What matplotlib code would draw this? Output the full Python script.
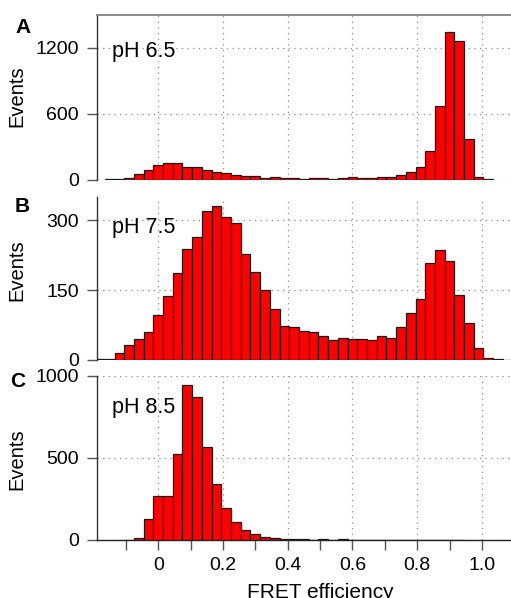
import numpy as np
import matplotlib.pyplot as plt

plt.rcParams['font.family'] = ['Liberation Sans', 'DejaVu Sans']

# histogram counts, bin width 0.03, first bin centre given per panel
bin_width = 0.03
start_a = -0.15
counts_a = [5, 8, 15, 51, 87, 136, 154, 151, 112, 115, 87, 69, 63, 45, 33,
            30, 18, 21, 15, 18, 9, 15, 12, 9, 15, 24, 15, 15, 24, 24,
            42, 66, 118, 262, 666, 1342, 1263, 368, 21, 6]
start_b = -0.18
counts_b = [3, 3, 16, 32, 45, 61, 97, 138, 186, 238, 265, 319, 331, 306, 294,
            228, 189, 150, 110, 73, 70, 62, 60, 51, 43, 48, 46, 46, 43, 52,
            47, 70, 100, 132, 209, 237, 212, 139, 79, 26, 4, 3, 1]
start_c = -0.09
counts_c = [2, 10, 129, 266, 268, 525, 943, 869, 566, 340, 197, 111, 64, 35, 18,
            10, 6, 4, 6, 2, 4, 2, 4, 1, 1, 1, 1, 1, 3, 1, 1, 1, 3, 1, 1]

panel_letters = ['A', 'B', 'C']
ph_labels = ['pH 6.5', 'pH 7.5', 'pH 8.5']
ylims = [1500, 350, 1000]
yticks = [[0, 600, 1200], [0, 150, 300], [0, 500, 1000]]
xticks_major = [0, 0.2, 0.4, 0.6, 0.8, 1.0]
xtick_labels = ['0', '0.2', '0.4', '0.6', '0.8', '1.0']
xticks_minor = [-0.1, 0.1, 0.3, 0.5, 0.7, 0.9]
xlim = (-0.19, 1.09)

W, H = 511, 598
fig = plt.figure(figsize=(W / 100, H / 100), dpi=100)

# axes boxes in pixels: (top, bottom)
boxes = [(14.7, 179.5), (197, 360), (376, 540)]
left_px = 96.7
ph_y = [0.746, 0.779, 0.774]
ylabel_y = [96.5, 270.5, 459]
letter_pos = [(23, 33), (22.5, 212), (18, 387)]

data = [(start_a, counts_a), (start_b, counts_b), (start_c, counts_c)]
grid_kw = dict(color='#8a8a8a', linestyle=(0, (1, 3.5)), linewidth=0.9)

for i, (top, bot) in enumerate(boxes):
    ax = fig.add_axes([left_px / W, 1 - bot / H, 1 - left_px / W, (bot - top) / H])
    start, counts = data[i]
    centers = start + bin_width * np.arange(len(counts))
    ax.bar(centers, counts, width=bin_width, color='#ff0000',
           edgecolor='#1a1a1a', linewidth=0.9, zorder=3)
    ax.set_xlim(*xlim)
    ax.set_ylim(0, ylims[i])
    ax.set_yticks(yticks[i])
    ax.set_xticks(xticks_major)
    ax.set_axisbelow(True)
    ax.grid(True, **grid_kw)

    ax.spines['right'].set_visible(False)
    ax.spines['left'].set_color('#333333')
    ax.spines['left'].set_linewidth(1.0)
    ax.tick_params(axis='y', direction='out', length=7, width=1.0,
                   color='#555555', pad=6, labelsize=14)
    if i == 0:
        ax.spines['top'].set_color('#777777')
        ax.spines['top'].set_linewidth(1.2)
    else:
        ax.spines['top'].set_visible(False)

    if i < 2:
        ax.spines['bottom'].set_visible(False)
        ax.tick_params(axis='x', length=0, labelbottom=False)
    else:
        ax.spines['bottom'].set_color('#222222')
        ax.spines['bottom'].set_linewidth(1.0)
        ax.set_xticklabels(xtick_labels)
        ax.set_xticks(xticks_minor, minor=True)
        ax.tick_params(axis='x', which='both', direction='out', length=7,
                       width=1.0, color='#555555', pad=5, labelsize=14)
        ax.set_xlabel('FRET efficiency', fontsize=15)
        ax.xaxis.set_label_coords((0.5 - xlim[0]) / (xlim[1] - xlim[0]), -0.26)

    ax.text(0.036, ph_y[i], ph_labels[i], transform=ax.transAxes, fontsize=15.5,
            va='baseline', ha='left')

    fig.text(17 / W, 1 - ylabel_y[i] / H, 'Events', rotation=90, fontsize=14.5,
             ha='center', va='center')

for letter, (x, y) in zip(panel_letters, letter_pos):
    fig.text(x / W, 1 - y / H, letter, fontsize=15, fontweight='bold',
             ha='center', va='baseline')

fig.savefig('out.png', dpi=100)
